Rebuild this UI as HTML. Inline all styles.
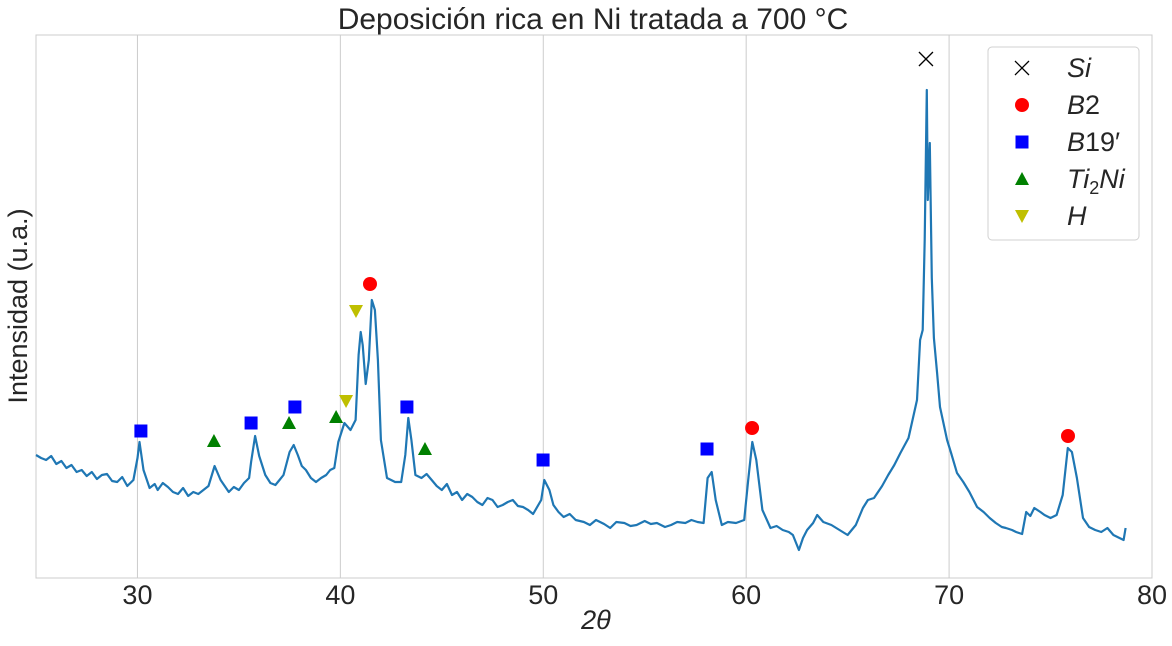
<!DOCTYPE html>
<html><head><meta charset="utf-8"><style>
body{margin:0;background:#fff;font-family:"Liberation Sans",sans-serif;}
svg text{font-family:"Liberation Sans",sans-serif;fill:#262626;}
</style></head><body>
<svg id="chart" width="1172" height="641" viewBox="0 0 1172 641">
<rect width="1172" height="641" fill="#fff"/>
<text x="593" y="29" font-size="30" text-anchor="middle">Deposición rica en Ni tratada a 700 °C</text>
<g id="grid"></g>
<rect x="36" y="35" width="1116" height="543" fill="none" stroke="#cccccc" stroke-width="1"/>
<g id="series"></g>
<g id="markers"></g>
<g id="ticks"></g>
<text x="596" y="629" font-size="27" text-anchor="middle" font-style="italic">2θ</text>
<text transform="translate(27,306) rotate(-90)" font-size="27" text-anchor="middle">Intensidad (u.a.)</text>
<g>
<rect x="988" y="47" width="151" height="193" rx="4" fill="#fff" stroke="#d0d0d0"/>
<g id="legend-items"></g>
</g>
</svg>
<script>
const xTicks=[30,40,50,60,70,80];
const angles=[
25,25.25,25.5,25.75,26,26.25,26.5,26.75,27,27.25,27.5,27.75,28,28.25,28.5,28.75,29,29.25,29.5,29.8,
30.0,30.1,30.3,30.6,30.85,31,31.25,31.5,31.75,32,32.25,32.5,32.75,33,33.25,33.5,33.8,34.1,34.3,34.5,34.75,35,35.25,35.5,35.6,35.8,36.0,
36.3,36.55,36.8,37.0,37.2,37.5,37.7,37.9,38.1,38.3,38.55,38.8,39.05,39.3,39.5,39.7,39.9,40.2,40.5,40.75,
40.9,41.0,41.1,41.25,41.4,41.55,41.7,41.85,42.0,42.3,42.5,42.7,43.0,43.2,43.35,43.5,43.7,
44,44.25,44.5,44.75,45,45.25,45.5,45.75,46,46.25,46.5,46.75,47,47.25,47.5,47.75,48,48.25,48.5,48.75,49,49.25,49.5,49.9,
50.05,50.3,50.5,50.75,51,51.3,51.6,52,52.3,52.6,53,53.3,53.6,54,54.3,54.6,55,55.3,55.6,56,56.3,56.6,57,57.3,57.6,57.9,
58.1,58.3,58.5,58.8,59.1,59.5,59.9,60.1,60.3,60.5,60.8,61.2,61.5,61.8,62.1,62.3,62.6,62.8,63,63.3,63.5,63.8,64.2,64.6,65,65.4,65.75,66,66.3,66.7,67,67.3,67.6,68,
68.42,68.57,68.7,68.8,68.9,68.95,69.05,69.15,69.25,69.41,69.55,69.9,70.1,70.39,70.7,71,71.38,71.7,72,72.3,72.6,72.8,73.1,73.3,73.6,73.8,74.0,74.2,74.5,74.7,75.0,75.3,75.6,75.85,76.05,76.3,76.6,76.9,77.2,77.5,77.8,78.1,78.4,78.6,78.7];
const intensity=[
123,120,118,122,114,117,110,113,106,108,102,106,99,103,104,97,96,101,92,98,
120,136,108,90,94,88,95,91,86,84,90,82,86,84,88,92,112,98,92,86,91,88,95,100,116,142,122,
103,95,93,98,103,126,133,123,112,108,100,96,100,103,108,110,136,155,148,158,
223,246,233,194,218,278,268,218,138,100,98,96,96,123,160,138,103,
100,104,98,92,88,94,83,86,78,84,81,76,73,80,78,71,73,76,78,72,71,68,64,78,
98,88,73,66,61,64,58,56,53,58,54,50,56,55,52,53,57,54,55,51,53,56,55,58,56,55,
100,106,78,53,56,55,58,98,136,118,68,50,52,48,46,43,28,40,48,55,63,56,53,48,43,53,70,78,80,92,103,113,125,140,
178,238,248,338,488,378,435,300,240,205,171,138,125,105,96,86,71,66,60,55,51,50,48,46,44,66,62,70,66,63,60,63,83,130,126,100,60,51,48,46,50,43,40,38,50];
const siX=[68.86], siY=[519];
const b2X=[41.46,60.29,75.86], b2Y=[294,150,142];
const b19X=[30.17,35.6,37.76,43.28,49.99,58.07], b19Y=[147,155,171,171,118,129];
const tiX=[33.77,37.47,39.79,44.17], tiY=[137,155,161,129];
const hX=[40.77,40.28], hY=[267,177];
const NS='http://www.w3.org/2000/svg';
const X0=36,X1=1152,Y0=578,Y1=35;
const sx=v=>X0+(v-25)/(80-25)*(X1-X0);
const sy=v=>Y0-(v/543)*(Y0-Y1);
function mk(tag,attrs,parent){const e=document.createElementNS(NS,tag);for(const k in attrs)e.setAttribute(k,attrs[k]);parent.appendChild(e);return e;}
const grid=document.getElementById('grid'),ticks=document.getElementById('ticks');
xTicks.forEach(t=>{
 if(t<80){const l=mk('line',{x1:sx(t),x2:sx(t),y1:Y1,y2:Y0,stroke:'#cccccc','stroke-width':1},grid);
 
 }
 const tx=mk('text',{x:sx(t),y:604,'font-size':27,'text-anchor':'middle'},ticks);
 tx.textContent=t;
 
 
});
const n=Math.min(angles.length,intensity.length);
let d='';
for(let i=0;i<n;i++)d+=(i?'L':'M')+sx(angles[i]).toFixed(1)+','+sy(intensity[i]).toFixed(1);
const path=mk('path',{d:d,fill:'none',stroke:'#1f77b4','stroke-width':2.2,'stroke-linejoin':'round'},document.getElementById('series'));


const mg=document.getElementById('markers');
function marker(type,cx,cy,parent){
 let e;
 if(type==='x'){e=mk('path',{d:`M${cx-7},${cy-7}L${cx+7},${cy+7}M${cx-7},${cy+7}L${cx+7},${cy-7}`,stroke:'#000','stroke-width':1.3,fill:'none'},parent);}
 else if(type==='o'){e=mk('circle',{cx:cx,cy:cy,r:7,fill:'#ff0000'},parent);}
 else if(type==='s'){e=mk('rect',{x:cx-6.5,y:cy-6.5,width:13,height:13,fill:'#0000ff'},parent);}
 else if(type==='^'){e=mk('path',{d:`M${cx},${cy-7}L${cx+7},${cy+6}L${cx-7},${cy+6}Z`,fill:'#008000'},parent);}
 else {e=mk('path',{d:`M${cx},${cy+7}L${cx+7},${cy-6}L${cx-7},${cy-6}Z`,fill:'#bfbf00'},parent);}
 return e;
}
[['x',siX,siY,'si-marker'],['o',b2X,b2Y,'b2-marker'],['s',b19X,b19Y,'b19-marker'],['^',tiX,tiY,'ti2ni-marker'],['v',hX,hY,'h-marker']].forEach(([t,xs,ys,nm])=>{
 xs.forEach((x,i)=>{const e=marker(t,sx(x),sy(ys[i]),mg);
 
 });
});
const lg=document.getElementById('legend-items');
const labels=[['x','<tspan font-style="italic">Si</tspan>'],['o','<tspan font-style="italic">B</tspan>2'],['s','<tspan font-style="italic">B</tspan>19′'],['^','<tspan font-style="italic">Ti</tspan><tspan font-size="18" dy="6">2</tspan><tspan font-style="italic" dy="-6">Ni</tspan>'],['v','<tspan font-style="italic">H</tspan>']];
labels.forEach(([t,html],i)=>{
 const cy=68+i*37;
 const m=marker(t,1022,cy,lg);
 
 
 const tx=mk('text',{x:1067,y:cy+9,'font-size':27},lg);
 tx.innerHTML=html;
 
 
});
</script>
</body></html>
